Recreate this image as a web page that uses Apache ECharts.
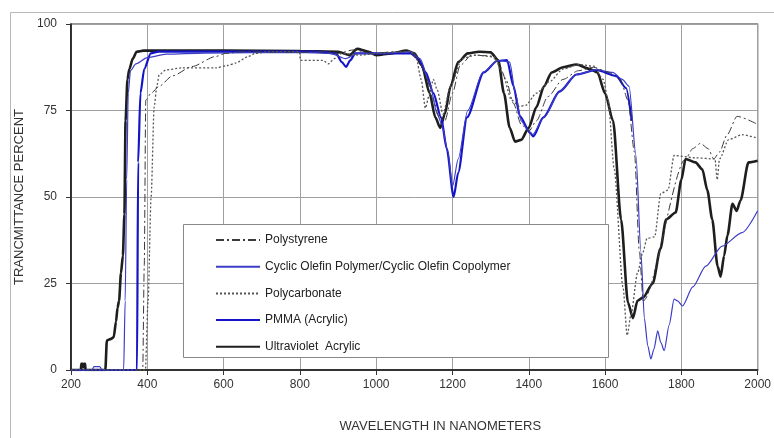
<!DOCTYPE html>
<html><head><meta charset="utf-8">
<script src="https://cdn.jsdelivr.net/npm/echarts@6/dist/echarts.min.js"></script>
<style>html,body{margin:0;padding:0;background:#fff}#c{width:774px;height:438px}</style>
</head><body><div id="c"></div>
<script>
const seriesNames = ["Polystyrene","Cyclic Olefin Polymer/Cyclic Olefin Copolymer","Polycarbonate","PMMA (Acrylic)","Ultraviolet  Acrylic"];

const psX = [200,388,392,396,410,431,466,517,579,605,650,800,850,900,940,990,1050,1090,1110,1130,1150,1165,1180,1200,1220,1250,1300,1320,1340,1360,1380,1400,1420,1450,1490,1530,1570,1610,1640,1660,1677,1690,1700,1811,1830,1850,1870,1885,1900,1920,1946,2000];
const psY = [0,0,30,78,80,82,85,87.7,90.6,91.5,92,91.8,92,91.5,92.5,91.5,92,92.2,90,85,78,73,72,80,88,91,90.8,89,84,77,71,69,72,79,84,86.5,87.5,86,84,78,63,34,20,61,64,65.5,64,61,63,68,73.3,71];

const copX = [200,255,260,275,282,338,342,346,350,356,370,400,450,550,800,880,920,950,1000,1090,1115,1140,1160,1172,1188,1200,1215,1240,1280,1320,1350,1365,1380,1400,1410,1440,1480,1525,1577,1620,1645,1663,1681,1694,1703,1712,1720,1728,1738,1746,1755,1768,1781,1790,1803,1830,1864,1907,1959,2000];
const copY = [0,0,1,1,0,0,20,55,80,86.5,88.5,90.3,91.3,91.6,91.8,91.5,90,91.5,91.5,92,90,83,74,71,63,53,61,75,86,89.5,89,80,72,69,68,73,80.3,85.4,86.8,86,84,82,62,34,15,7,3.2,6,11.3,8,5.6,13,20.5,20,18.5,24,30,35.8,39.7,46];

const pcX = [200,395,402,410,418,425,431,448,490,580,610,631,665,683,720,798,802,860,875,890,910,960,1000,1050,1090,1105,1118,1129,1138,1150,1160,1175,1195,1225,1260,1310,1330,1355,1375,1392,1420,1455,1490,1533,1570,1595,1608,1624,1647,1658,1668,1685,1699,1710,1730,1746,1765,1781,1838,1888,1894,1900,1924,1960,2000];
const pcY = [0,0,20,50,76,82,85.3,86.7,87.3,87.3,88,88.7,90.6,91.5,92,92,89.5,89.5,88.5,90,91.5,91,91.5,91.8,92,90,84,75.7,79,84,81,74,82,90,91,90.5,86,78,76.2,76.5,80,83.4,87,88.3,87.8,84,78,58,24,10,16,28,34,38,38.5,51,52,62,61.3,61,55,61,66.6,68,67];

const pmX = [200,373,376,382,392,409,430,700,850,895,910,921,932,945,1000,1090,1110,1130,1150,1170,1185,1203,1215,1238,1282,1317,1343,1360,1377,1403,1412,1438,1481,1525,1577,1629,1655,1670];
const pmY = [0,0,60,80,87,91.5,92,92,92,91.5,89,87.6,89.5,91.5,91.5,91.5,90,86,80,73,64,50,57,73,86,89.3,89.6,82,73.3,68.6,67.5,73,80.5,85.4,86.7,85,81.5,72];

const uvX = [200,226,227,231,232,234,237,238,290,294,305,312,318,322,326,331,336,340,343,348,353,362,372,390,600,800,900,930,950,980,1000,1040,1080,1100,1120,1140,1155,1168,1180,1195,1215,1240,1270,1300,1320,1335,1350,1364,1380,1400,1420,1440,1460,1490,1525,1560,1580,1600,1621,1642,1660,1673,1685,1700,1725,1745,1760,1785,1800,1811,1837,1855,1868,1881,1895,1903,1912,1921,1934,1945,1955,1976,2000];
const uvY = [0,0,1.8,1.8,0.8,1.8,1.8,0,0,8.5,9,9.5,14,18,20,28,33,45,72,84,87,90,92,92.3,92.3,92.2,92,91,92.8,92,91,91.5,92.3,91.5,88,80,73,70,74,82,89,91.5,92,91.8,89.5,80,70,66,66.5,70,76,82,86,87.5,88.3,87,86,80,72,43.5,19.5,15,20,21,25,35,43.5,45.5,55,61,60,58,52,43.5,30,27,33,39,48,46,49,60,60.5];

const xMin = 200, xMax = 2000, xStep = 200;
const yMin = 0, yMax = 100, yStep = 25;

function pairs(xs, ys){ return xs.map((x,i)=>[x, ys[i]]); }

const styles = [
  {color:'#3a3a3a', width:1, type:[8,3,2,3]},
  {color:'#3c3cc8', width:1.2, type:'solid'},
  {color:'#555555', width:1.3, type:[2,2]},
  {color:'#1414c8', width:2.2, type:'solid'},
  {color:'#1e1e1e', width:2.6, type:'solid'}
];
const dataSets = [pairs(psX,psY), pairs(copX,copY), pairs(pcX,pcY), pairs(pmX,pmY), pairs(uvX,uvY)];
const zs = [4,3,5,2,1];

const chart = echarts.init(document.getElementById('c'), null, {renderer:'canvas'});
chart.setOption({
  animation:false,
  backgroundColor:'#fff',
  textStyle:{fontFamily:'Liberation Sans, Arial, sans-serif'},
  graphic:[
    {type:'rect', z:-10, shape:{x:10.5,y:12.5,width:775,height:440}, style:{fill:'none', stroke:'#b8b8b8', lineWidth:1}},
    {type:'rect', z:50, shape:{x:183.5,y:224.5,width:425,height:133}, style:{fill:'#fff', stroke:'#888', lineWidth:1}}
  ],
  grid:{left:71, right:12, top:24, bottom:67, show:true, borderColor:'#333', borderWidth:1.2, backgroundColor:'#fff'},
  legend:{
    data:seriesNames, orient:'vertical', left:210, top:229, z:60,
    itemWidth:44, itemHeight:14, itemGap:14.7,
    itemStyle:{opacity:0},
    textStyle:{fontSize:12, color:'#222', fontFamily:'Liberation Sans, Arial, sans-serif'},
    selectedMode:false
  },
  xAxis:{
    type:'value', min:xMin, max:xMax, interval:xStep,
    name:'WAVELENGTH IN NANOMETERS', nameLocation:'middle', nameGap:50,
    nameTextStyle:{fontSize:13, color:'#333', padding:[0,0,0,52]},
    axisLine:{lineStyle:{color:'#111', width:1.5}},
    axisTick:{show:true, length:5, lineStyle:{color:'#333'}},
    axisLabel:{fontSize:12, color:'#333', margin:9, formatter:v=>String(v)},
    splitLine:{show:true, lineStyle:{color:'#a0a0a0', width:1}}
  },
  yAxis:{
    type:'value', min:yMin, max:yMax, interval:yStep,
    name:'TRANCMITTANCE PERCENT', nameLocation:'middle', nameGap:41, nameRotate:90,
    nameTextStyle:{fontSize:13, color:'#333'},
    axisLine:{show:true, lineStyle:{color:'#111', width:1.5}},
    axisTick:{show:true, length:5, lineStyle:{color:'#333'}},
    axisLabel:{fontSize:12, color:'#333', margin:14, formatter:v=>String(v)},
    splitLine:{show:true, lineStyle:{color:'#a0a0a0', width:1}}
  },
  series: seriesNames.map((n,i)=>({
    name:n, type:'line', data:dataSets[i], symbol:'none', showSymbol:false,
    smooth:0.25, smoothMonotone:'x', z:zs[i],
    lineStyle:{color:styles[i].color, width:styles[i].width, type:styles[i].type},
    itemStyle:{color:styles[i].color}
  }))
});
</script></body></html>
